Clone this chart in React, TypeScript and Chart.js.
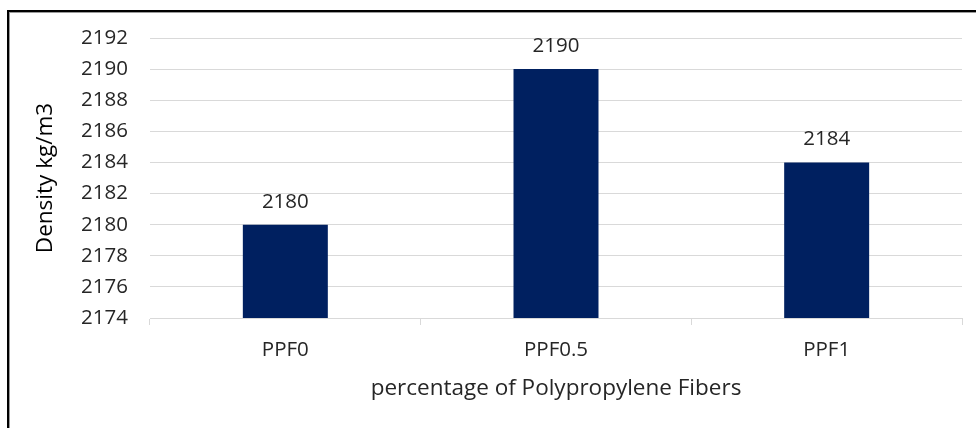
import React, { useEffect, useRef } from "react";
import { Chart, registerables } from "chart.js";

Chart.register(...registerables);

const categories = ["PPF0", "PPF0.5", "PPF1"];
const densityValues = [2180, 2190, 2184];
const yMin = 2174;
const yMax = 2192;
const yStep = 2;
const xTitle = "percentage of Polypropylene Fibers";
const yTitle = "Density kg/m3";

const FONT = "'Open Sans', sans-serif";
const TICK_SIZE = 20.5;
const TITLE_SIZE = 22.5;

const valueLabels = {
  id: "valueLabels",
  afterDatasetsDraw(chart: any) {
    const ctx = chart.ctx;
    const meta = chart.getDatasetMeta(0);
    ctx.save();
    ctx.font = `${TICK_SIZE}px ${FONT}`;
    ctx.fillStyle = "#262626";
    ctx.textAlign = "center";
    ctx.textBaseline = "alphabetic";
    meta.data.forEach((bar: any, i: number) => {
      ctx.fillText(String(chart.data.datasets[0].data[i]), bar.x, bar.y - 17);
    });
    ctx.restore();
  },
};

export default function App() {
  const ref = useRef<HTMLCanvasElement | null>(null);

  useEffect(() => {
    if (!ref.current) return;
    const chart = new Chart(ref.current, {
      type: "bar",
      data: {
        labels: categories,
        datasets: [
          {
            data: densityValues,
            backgroundColor: "#002060",
            borderWidth: 0,
            categoryPercentage: 1,
            barPercentage: 0.314,
          },
        ],
      },
      options: {
        animation: false,
        responsive: false,
        devicePixelRatio: 1,
        layout: { padding: { left: 0, right: 14, top: 38, bottom: 0 } },
        plugins: {
          legend: { display: false },
          tooltip: { enabled: false },
        },
        scales: {
          y: {
            min: yMin,
            max: yMax,
            ticks: {
              stepSize: yStep,
              padding: 22,
              color: "#262626",
              font: { family: FONT, size: TICK_SIZE },
              callback: (v: any) => String(v),
            },
            grid: { color: "#d9d9d9", drawTicks: false, lineWidth: 1 },
            border: { display: false },
            title: {
              display: true,
              text: yTitle,
              color: "#000000",
              font: { family: FONT, size: TITLE_SIZE },
              padding: { top: 32, bottom: 0 },
            },
            afterFit: (s: any) => {
              s.width = 150;
            },
          },
          x: {
            grid: {
              offset: true,
              drawOnChartArea: false,
              drawTicks: true,
              tickLength: 7,
              color: "#d9d9d9",
            },
            border: { display: true, color: "#d9d9d9" },
            ticks: {
              padding: 13,
              color: "#262626",
              font: { family: FONT, size: TICK_SIZE },
            },
            title: {
              display: true,
              text: xTitle,
              color: "#262626",
              font: { family: FONT, size: TITLE_SIZE },
              padding: { top: 0, bottom: 26 },
            },
            afterFit: (s: any) => {
              s.height = 110;
            },
          },
        },
      },
      plugins: [valueLabels],
    });
    return () => chart.destroy();
  }, []);

  return (
    <div
      style={{
        position: "fixed",
        left: 0,
        top: 0,
        width: 976,
        height: 428,
        background: "#ffffff",
        overflow: "hidden",
      }}
    >
      <canvas ref={ref} width={976} height={428} style={{ display: "block" }} />
      <div
        style={{
          position: "absolute",
          left: 7,
          top: 10,
          width: 1100,
          height: 600,
          border: "2px solid #000000",
          boxShadow: "inset 1px 1px 0 #9a9a9a",
          pointerEvents: "none",
        }}
      />
    </div>
  );
}
